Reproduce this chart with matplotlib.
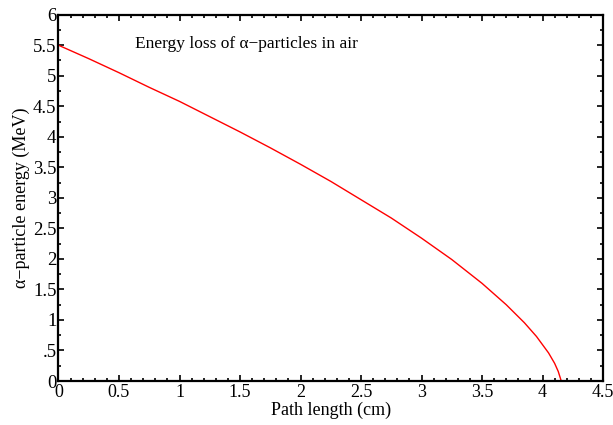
import matplotlib
matplotlib.use("Agg")
import matplotlib.pyplot as plt
from matplotlib.ticker import MultipleLocator, FixedLocator, FixedFormatter

plt.rcParams['font.family'] = ['Liberation Serif', 'DejaVu Serif']
plt.rcParams['mathtext.fontset'] = 'stix'

# Alpha-particle energy vs distance travelled in air
path_cm = [0.0, 0.25, 0.5, 0.75, 1.0, 1.25, 1.5, 1.75, 2.0, 2.25, 2.5,
           2.75, 3.0, 3.25, 3.5, 3.7, 3.85, 3.95, 4.05, 4.10, 4.13, 4.155]
energy_mev = [5.50, 5.28, 5.05, 4.81, 4.58, 4.33, 4.08, 3.82, 3.55, 3.27, 2.97,
              2.67, 2.34, 1.99, 1.60, 1.25, 0.955, 0.73, 0.46, 0.29, 0.157, 0.0]

x_ticks = [0, 0.5, 1, 1.5, 2, 2.5, 3, 3.5, 4, 4.5]
x_labels = ["0", "0.5", "1", "1.5", "2", "2.5", "3", "3.5", "4", "4.5"]
y_ticks = [0, 0.5, 1, 1.5, 2, 2.5, 3, 3.5, 4, 4.5, 5, 5.5, 6]
y_labels = ["0", ".5", "1", "1.5", "2", "2.5", "3", "3.5", "4", "4.5", "5", "5.5", "6"]

fig = plt.figure(figsize=(6.13, 4.25), dpi=100)
ax = fig.add_axes([58.5 / 613, 44 / 425, (603 - 58.5) / 613, (381 - 14.7) / 425])

ax.plot(path_cm, energy_mev, color='#ff0000', lw=1.0)

ax.set_xlim(0, 4.5)
ax.set_ylim(0, 6)
ax.xaxis.set_major_locator(FixedLocator(x_ticks))
ax.xaxis.set_major_formatter(FixedFormatter(x_labels))
ax.yaxis.set_major_locator(FixedLocator(y_ticks))
ax.yaxis.set_major_formatter(FixedFormatter(y_labels))
ax.xaxis.set_minor_locator(MultipleLocator(0.1))
ax.yaxis.set_minor_locator(MultipleLocator(0.25))

for s in ax.spines.values():
    s.set_linewidth(1.6)

ax.tick_params(which='both', direction='in', top=True, right=True, width=1.2)
ax.tick_params(which='major', length=4.5, labelsize=13.5)
ax.tick_params(axis='x', which='major', labelsize=13)
ax.tick_params(which='minor', length=2.5)
ax.tick_params(axis='x', which='major', pad=2.5)
ax.tick_params(axis='y', which='major', pad=1.5)

ax.set_xlabel("Path length (cm)", fontsize=13, labelpad=0.5)
ax.set_ylabel("α−particle energy (MeV)", fontsize=13, labelpad=2)

ax.text(0.63, 5.52, "Energy loss of α−particles in air", fontsize=12.5, va='center', ha='left')

fig.savefig("out.png", dpi=100)
